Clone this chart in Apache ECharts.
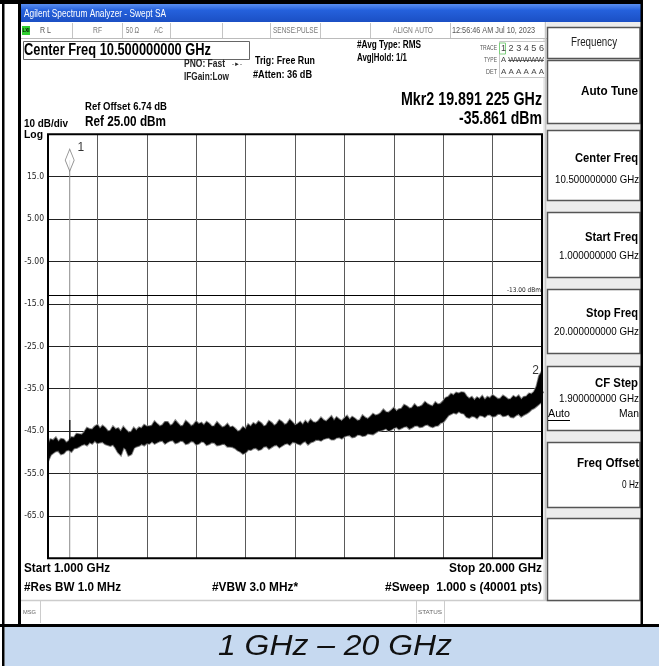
<!DOCTYPE html>
<html><head><meta charset="utf-8">
<script src="https://cdn.jsdelivr.net/npm/echarts@6/dist/echarts.min.js"></script>
<style>html,body{margin:0;padding:0;background:#fff}#c{width:659px;height:666px}</style>
</head><body><div id="c"></div>
<script>
// ---- data (sweep 1-20 GHz, 0.1 GHz steps, upper / lower edge of the noisy trace, dBm) ----
const freqGHz = [
 1.0,1.1,1.2,1.3,1.4,1.5,1.6,1.7,1.8,1.9,
 2.0,2.1,2.2,2.3,2.4,2.5,2.6,2.7,2.8,2.9,
 3.0,3.1,3.2,3.3,3.4,3.5,3.6,3.7,3.8,3.9,
 4.0,4.1,4.2,4.3,4.4,4.5,4.6,4.7,4.8,4.9,
 5.0,5.1,5.2,5.3,5.4,5.5,5.6,5.7,5.8,5.9,
 6.0,6.1,6.2,6.3,6.4,6.5,6.6,6.7,6.8,6.9,
 7.0,7.1,7.2,7.3,7.4,7.5,7.6,7.7,7.8,7.9,
 8.0,8.1,8.2,8.3,8.4,8.5,8.6,8.7,8.8,8.9,
 9.0,9.1,9.2,9.3,9.4,9.5,9.6,9.7,9.8,9.9,
 10.0,10.1,10.2,10.3,10.4,10.5,10.6,10.7,10.8,10.9,
 11.0,11.1,11.2,11.3,11.4,11.5,11.6,11.7,11.8,11.9,
 12.0,12.1,12.2,12.3,12.4,12.5,12.6,12.7,12.8,12.9,
 13.0,13.1,13.2,13.3,13.4,13.5,13.6,13.7,13.8,13.9,
 14.0,14.1,14.2,14.3,14.4,14.5,14.6,14.7,14.8,14.9,
 15.0,15.1,15.2,15.3,15.4,15.5,15.6,15.7,15.8,15.9,
 16.0,16.1,16.2,16.3,16.4,16.5,16.6,16.7,16.8,16.9,
 17.0,17.1,17.2,17.3,17.4,17.5,17.6,17.7,17.8,17.9,
 18.0,18.1,18.2,18.3,18.4,18.5,18.6,18.7,18.8,18.9,
 19.0,19.1,19.2,19.3,19.4,19.5,19.6,19.7,19.8,19.9,
 20.0];
const traceHi = [
 -48.5,-47.0,-47.2,-46.6,-47.6,-46.9,-47.0,-47.8,-47.4,-46.5,
 -46.6,-45.7,-45.8,-45.9,-45.3,-44.3,-44.6,-44.7,-44.0,-43.6,
 -44.5,-43.8,-44.3,-45.1,-45.0,-44.0,-44.6,-44.4,-45.2,-44.1,
 -44.8,-45.4,-45.3,-44.3,-44.9,-44.2,-44.4,-43.6,-44.0,-43.9,
 -43.8,-42.8,-43.4,-43.9,-43.7,-42.9,-42.9,-43.8,-43.5,-42.6,
 -43.3,-43.9,-43.8,-42.7,-43.2,-43.9,-43.6,-42.8,-43.4,-43.1,
 -43.7,-42.9,-43.3,-44.0,-43.9,-43.0,-43.6,-44.2,-44.0,-43.4,
 -44.2,-44.0,-44.5,-45.2,-44.9,-44.1,-44.6,-43.5,-44.0,-43.2,
 -43.6,-42.8,-43.2,-44.0,-43.7,-42.7,-43.1,-43.8,-43.4,-42.5,
 -42.9,-43.6,-43.3,-42.4,-43.0,-43.7,-43.4,-42.9,-43.6,-42.7,
 -43.3,-42.4,-43.0,-43.1,-42.7,-41.9,-42.5,-42.8,-42.2,-41.6,
 -42.6,-41.8,-42.3,-42.7,-42.0,-41.5,-42.4,-41.7,-42.1,-42.6,
 -42.5,-41.4,-41.9,-42.2,-41.7,-41.0,-41.4,-41.2,-40.8,-40.0,
 -40.6,-40.7,-40.2,-39.6,-40.4,-39.9,-39.8,-38.9,-39.2,-39.7,
 -39.6,-38.8,-39.4,-39.3,-39.0,-38.2,-38.7,-39.0,-39.2,-38.3,
 -38.8,-38.6,-38.0,-37.2,-37.0,-36.3,-36.6,-36.0,-36.2,-35.9,
 -36.0,-36.9,-37.4,-37.0,-37.8,-37.1,-37.5,-36.8,-37.7,-37.0,
 -37.3,-36.6,-37.0,-37.5,-37.4,-36.7,-37.1,-37.6,-37.5,-36.8,
 -37.2,-36.7,-37.6,-37.0,-36.9,-36.2,-36.3,-35.8,-34.5,-32.0,
 -31.0];
const traceLo = [
 -52.0,-50.6,-50.1,-49.7,-49.6,-50.4,-50.2,-49.5,-49.4,-49.8,
 -49.0,-48.9,-48.6,-48.2,-48.0,-48.3,-47.6,-47.9,-47.2,-47.8,
 -47.6,-47.5,-48.0,-48.2,-48.4,-48.1,-48.9,-50.0,-50.6,-48.8,
 -49.2,-50.7,-50.4,-48.9,-48.6,-48.4,-48.0,-48.3,-47.8,-47.9,
 -47.4,-47.9,-47.6,-47.3,-47.2,-47.9,-47.5,-47.2,-47.1,-47.8,
 -47.6,-47.2,-47.3,-48.0,-47.8,-47.3,-47.4,-48.1,-47.9,-47.4,
 -47.5,-48.2,-48.0,-47.6,-47.7,-48.3,-48.2,-48.0,-48.0,-48.6,
 -48.6,-48.7,-49.0,-49.5,-49.8,-50.3,-50.0,-49.3,-49.4,-49.0,
 -48.9,-49.4,-49.2,-48.6,-48.5,-49.1,-48.7,-48.3,-48.2,-48.8,
 -48.4,-48.0,-47.8,-48.2,-47.5,-47.6,-47.9,-48.1,-47.6,-47.3,
 -48.1,-47.6,-47.4,-47.0,-47.0,-47.2,-46.8,-46.6,-46.5,-46.9,
 -46.9,-46.5,-46.4,-46.7,-46.2,-46.0,-45.9,-46.4,-46.3,-45.8,
 -45.8,-46.1,-46.0,-45.5,-45.6,-45.7,-45.3,-44.9,-44.8,-44.6,
 -44.3,-44.9,-44.6,-44.2,-44.0,-44.5,-44.2,-43.9,-43.8,-44.4,
 -44.1,-43.7,-43.6,-44.0,-43.9,-43.5,-43.4,-43.8,-44.0,-43.7,
 -43.6,-43.0,-42.8,-42.0,-41.2,-40.9,-40.6,-40.8,-40.3,-40.7,
 -40.8,-41.6,-41.8,-41.4,-41.5,-41.9,-41.2,-41.3,-41.6,-41.1,
 -41.0,-41.5,-41.4,-40.9,-40.9,-41.4,-41.3,-41.0,-41.6,-41.7,
 -41.2,-40.9,-41.5,-41.1,-40.8,-40.4,-39.8,-39.5,-39.0,-38.5,
 -38.0];
const spurFreq = [1.84];
const spurBase = [-47.5];
const spurTop = [-42.4];
const markerNames = ['1', '2'];
const markerFreq = [1.835, 19.891];
const markerLevel = [18.9, -35.861];
const displayLineDbm = -13;
const yTickLabels = ['', '-65.0', '-55.0', '-45.0', '-35.0', '-25.0', '-15.0', '-5.00', '5.00', '15.0', ''];

// ---- chart ----
const SANS = "'Liberation Sans',Arial,sans-serif";
const COND = "'DejaVu Sans Condensed','Liberation Sans',sans-serif";
const chart = echarts.init(document.getElementById('c'), null, {renderer: 'canvas'});
const mctx = document.createElement('canvas').getContext('2d');

function T(x, y, text, o) {
  o = o || {};
  const font = (o.italic ? 'italic ' : '') + (o.bold ? 'bold ' : '') + (o.size || 10) + 'px ' + (o.family || SANS);
  let sx = 1;
  if (o.w) { mctx.font = font; const m = mctx.measureText(text).width; if (m > 0) sx = o.w / m; }
  return {type: 'text', x: x, y: y, scaleX: sx, z: o.z || 50, silent: true, style: {
    text: text, fill: o.fill || '#000', font: font,
    textAlign: o.align || 'left', textVerticalAlign: 'middle'}};
}
function R(x, y, w, h, fill, stroke, lw, z) {
  return {type: 'rect', silent: true, z: z || 1, shape: {x: x, y: y, width: w, height: h},
    style: {fill: fill || 'none', stroke: stroke || null, lineWidth: lw || 1}};
}
function L(x1, y1, x2, y2, stroke, lw, z) {
  return {type: 'line', silent: true, z: z || 2, shape: {x1: x1, y1: y1, x2: x2, y2: y2},
    style: {stroke: stroke, lineWidth: lw || 1}};
}

const g = [];
// outer frame
g.push(R(0, 0, 642, 4, '#000', null, 1, 5));
g.push(R(2, 0, 2.5, 666, '#000', null, 1, 5));
g.push(R(18, 0, 3, 627, '#000', null, 1, 5));
g.push(R(640.5, 0, 2.5, 627, '#000', null, 1, 5));
g.push(R(0, 624, 659, 3, '#000', null, 1, 5));
g.push(R(4.5, 627, 654.5, 39, '#c6d9f0', null, 1, 1));
g.push(T(335, 647, '1 GHz \u2013 20 GHz', {size: 29, italic: true, align: 'center', fill: '#111', w: 234}));
// title bar
g.push({type: 'rect', silent: true, z: 3, shape: {x: 21, y: 4, width: 620, height: 18},
  style: {fill: new echarts.graphic.LinearGradient(0, 0, 0, 1, [{offset: 0, color: '#5a8ff0'}, {offset: 0.35, color: '#2561dc'}, {offset: 1, color: '#1b4fc4'}])}});
g.push(T(24, 13.5, 'Agilent Spectrum Analyzer - Swept SA', {size: 11, fill: '#fff', w: 142}));
// status row
g.push(R(21, 22, 526, 16, '#fff', null, 1, 2));
g.push(L(21, 38.5, 547, 38.5, '#bbb', 1));
[72, 122, 170, 222, 270, 320, 370, 450].forEach(x => g.push(L(x + 0.5, 23, x + 0.5, 38, '#c4c4c4', 1)));
g.push(R(22, 26, 8, 9, '#2fcf2f', null, 1, 3));
g.push(T(26, 30.5, 'LXI', {size: 4.5, bold: true, align: 'center', z: 51}));
g.push(T(40, 30.5, 'R L', {size: 9.5, fill: '#555', w: 11}));
g.push(T(93, 30.5, 'RF', {size: 9, fill: '#777', w: 9}));
g.push(T(126, 30.5, '50 \u03a9', {size: 9, fill: '#777', w: 13}));
g.push(T(154, 30.5, 'AC', {size: 9, fill: '#777', w: 9}));
g.push(T(318, 30.5, 'SENSE:PULSE', {size: 9, fill: '#777', align: 'right', w: 45}));
g.push(T(433, 30.5, 'ALIGN AUTO', {size: 9, fill: '#777', align: 'right', w: 40}));
g.push(T(452, 30.5, '12:56:46 AM Jul 10, 2023', {size: 9, fill: '#555', w: 83}));
// header
g.push(R(23.5, 41.5, 226, 18, '#fff', '#666', 1, 2));
g.push(T(24, 51, 'Center Freq 10.500000000 GHz', {size: 16, bold: true, w: 187}));
g.push(T(184, 64.5, 'PNO: Fast', {size: 10, bold: true, fill: '#222', w: 41}));
g.push(T(232, 64, '-\u25ba-', {size: 6, fill: '#222'}));
g.push(T(184, 77, 'IFGain:Low', {size: 10, bold: true, fill: '#222', w: 45}));
g.push(T(255, 61, 'Trig: Free Run', {size: 11, bold: true, w: 60}));
g.push(T(253, 75, '#Atten: 36 dB', {size: 10.5, bold: true, w: 59}));
g.push(T(357, 45.5, '#Avg Type: RMS', {size: 10.5, bold: true, w: 64}));
g.push(T(357, 58, 'Avg|Hold: 1/1', {size: 10.5, bold: true, w: 50}));
g.push(R(499.5, 41.5, 46, 36, '#fff', '#c8c8c8', 1, 2));
g.push(R(499.5, 43, 6, 11, null, '#7fd07f', 1, 3));
g.push(T(497, 48.5, 'TRACE', {size: 7, fill: '#555', align: 'right', w: 17}));
g.push(T(497, 60.5, 'TYPE', {size: 7, fill: '#555', align: 'right', w: 13}));
g.push(T(497, 72, 'DET', {size: 7, fill: '#555', align: 'right', w: 11}));
g.push(T(501, 49, '1 2 3 4 5 6', {size: 9, fill: '#444', w: 43}));
g.push(T(501, 60.5, 'A WWWWW', {size: 7, fill: '#444', w: 43}));
g.push(L(508, 60.5, 544, 60.5, '#444', 0.8, 52));
g.push(T(501, 72, 'A A A A A A', {size: 8, fill: '#444', w: 43}));
g.push(T(85, 107, 'Ref Offset 6.74 dB', {size: 11, bold: true, w: 82}));
g.push(T(85, 122, 'Ref 25.00 dBm', {size: 15, bold: true, w: 81}));
g.push(T(24, 124, '10 dB/div', {size: 11, bold: true, w: 44}));
g.push(T(24, 134.5, 'Log', {size: 11, bold: true, w: 19}));
g.push(T(542, 100, 'Mkr2 19.891 225 GHz', {size: 18, bold: true, align: 'right', w: 141}));
g.push(T(542, 119, '-35.861 dBm', {size: 18, bold: true, align: 'right', w: 83}));
// plot frame
g.push(R(48, 134.3, 494, 424, null, '#000', 2, 100));
// bottom texts
g.push(T(24, 568, 'Start 1.000 GHz', {size: 13, bold: true, w: 86}));
g.push(T(24, 587, '#Res BW 1.0 MHz', {size: 13, bold: true, w: 97}));
g.push(T(212, 587, '#VBW 3.0 MHz*', {size: 13, bold: true, w: 86}));
g.push(T(542, 568, 'Stop 20.000 GHz', {size: 13, bold: true, align: 'right', w: 93}));
g.push(T(542, 587, '#Sweep  1.000 s (40001 pts)', {size: 13, bold: true, align: 'right', w: 157}));
// msg row
g.push(L(21, 600.5, 641, 600.5, '#ccc', 1.5));
[40, 416, 444].forEach(x => g.push(L(x + 0.5, 601, x + 0.5, 623, '#ccc', 1)));
g.push(T(23, 612, 'MSG', {size: 6, fill: '#666', w: 13}));
g.push(T(418, 612, 'STATUS', {size: 6, fill: '#666', w: 24}));
// right panel
g.push(R(543, 22, 98, 579, '#ececec', null, 1, 1));
g.push(L(545.5, 22, 545.5, 601, '#c8c8c8', 1.5));
const btns = [[27, 31], [60, 63], [130, 70], [212, 65], [289, 64], [366, 64], [442, 65], [518, 82]];
btns.forEach(b => g.push(R(547.5, b[0] + 0.5, 92.5, b[1], '#fff', '#555', 1.5, 2)));
g.push(T(594, 42.5, 'Frequency', {size: 12, align: 'center', fill: '#222', w: 46}));
g.push(T(638, 91, 'Auto Tune', {size: 13, bold: true, align: 'right', w: 57}));
g.push(T(638, 158, 'Center Freq', {size: 13, bold: true, align: 'right', w: 63}));
g.push(T(639, 180, '10.500000000 GHz', {size: 11, align: 'right', w: 84}));
g.push(T(638, 237, 'Start Freq', {size: 13, bold: true, align: 'right', w: 53}));
g.push(T(639, 256, '1.000000000 GHz', {size: 11, align: 'right', w: 80}));
g.push(T(638, 313, 'Stop Freq', {size: 13, bold: true, align: 'right', w: 52}));
g.push(T(639, 332, '20.000000000 GHz', {size: 11, align: 'right', w: 85}));
g.push(T(638, 383, 'CF Step', {size: 13, bold: true, align: 'right', w: 43}));
g.push(T(639, 399, '1.900000000 GHz', {size: 11, align: 'right', w: 80}));
g.push(T(548, 414, 'Auto', {size: 11, w: 22}));
g.push(L(548, 420.5, 570, 420.5, '#000', 1, 52));
g.push(T(639, 414, 'Man', {size: 11, align: 'right', w: 20}));
g.push(T(639, 463, 'Freq Offset', {size: 13, bold: true, align: 'right', w: 62}));
g.push(T(639, 485, '0 Hz', {size: 11, align: 'right', w: 17}));

const option = {
  animation: false,
  backgroundColor: '#fff',
  grid: {left: 48, top: 134.3, width: 494, height: 424, show: false},
  xAxis: [
    {type: 'value', min: 1, max: 20, show: false, splitLine: {show: false}},
    {type: 'value', min: 0, max: 10, interval: 1, position: 'bottom', axisLine: {show: false}, axisTick: {show: false}, axisLabel: {show: false},
      splitLine: {show: true, lineStyle: {color: '#5a5a5a', width: 1}}}
  ],
  yAxis: [
    {type: 'value', min: -75, max: 25, show: false, splitLine: {show: false}},
    {type: 'value', min: 0, max: 10, interval: 1, position: 'left', axisLine: {show: false}, axisTick: {show: false},
      axisLabel: {show: true, margin: 4, fontSize: 8.5, color: '#222', fontFamily: COND, formatter: v => yTickLabels[v] || ''},
      splitLine: {show: true, lineStyle: {color: '#222', width: 1}}}
  ],
  graphic: g,
  series: [
    {
      type: 'custom', xAxisIndex: 0, yAxisIndex: 0, clip: true, silent: true, z: 5,
      data: freqGHz.map((f, i) => [f, traceHi[i], traceLo[i]]),
      renderItem: function (params, api) {
        if (params.dataIndex !== 0) return null;
        const n = Math.min(freqGHz.length, traceHi.length, traceLo.length);
        const top = [], bot = [];
        for (let i = 0; i < n; i++) { top.push(api.coord([freqGHz[i], traceHi[i]])); bot.push(api.coord([freqGHz[i], traceLo[i]])); }
        const pts = top.concat(bot.reverse());
        return {type: 'group', children: [
          {type: 'polygon', shape: {points: pts}, style: {fill: 'none', stroke: '#8a8a8a', lineWidth: 2.6}},
          {type: 'polygon', shape: {points: pts}, style: {fill: '#000', stroke: '#000', lineWidth: 0.8}}
        ]};
      }
    },
    {
      type: 'line', xAxisIndex: 0, yAxisIndex: 0, silent: true, symbol: 'none', z: 6,
      lineStyle: {color: '#000', width: 1.2},
      data: [[spurFreq[0], spurBase[0]], [spurFreq[0], spurTop[0]]],
      markLine: {silent: true, symbol: 'none', animation: false,
        lineStyle: {color: '#000', width: 1, type: 'solid'},
        label: {show: true, position: 'insideEndTop', formatter: '-13.00 dBm', fontSize: 6.5, color: '#222', fontFamily: COND, distance: [1, 2]},
        data: [{yAxis: displayLineDbm}]}
    },
    {
      type: 'line', xAxisIndex: 0, yAxisIndex: 0, silent: true, symbol: 'none', z: 4,
      lineStyle: {color: '#8c8c8c', width: 1},
      data: [[markerFreq[0], markerLevel[0]], [markerFreq[0], -75]]
    },
    {
      type: 'scatter', xAxisIndex: 0, yAxisIndex: 0, silent: true, z: 8,
      symbol: 'diamond',
      data: [
        {value: [markerFreq[0], markerLevel[0]], symbolSize: [9, 22], itemStyle: {color: '#fff', borderColor: '#777', borderWidth: 1},
          label: {show: true, formatter: markerNames[0], position: 'right', offset: [-2, -12], fontSize: 12, color: '#000', fontFamily: SANS}},
        {value: [markerFreq[1], markerLevel[1]], symbolSize: [8, 20], itemStyle: {color: '#000', borderColor: '#000', borderWidth: 1},
          label: {show: true, formatter: markerNames[1], position: 'left', offset: [9, -22], fontSize: 12, color: '#000', fontFamily: SANS}}
      ]
    }
  ]
};
chart.setOption(option);
</script>
</body></html>
